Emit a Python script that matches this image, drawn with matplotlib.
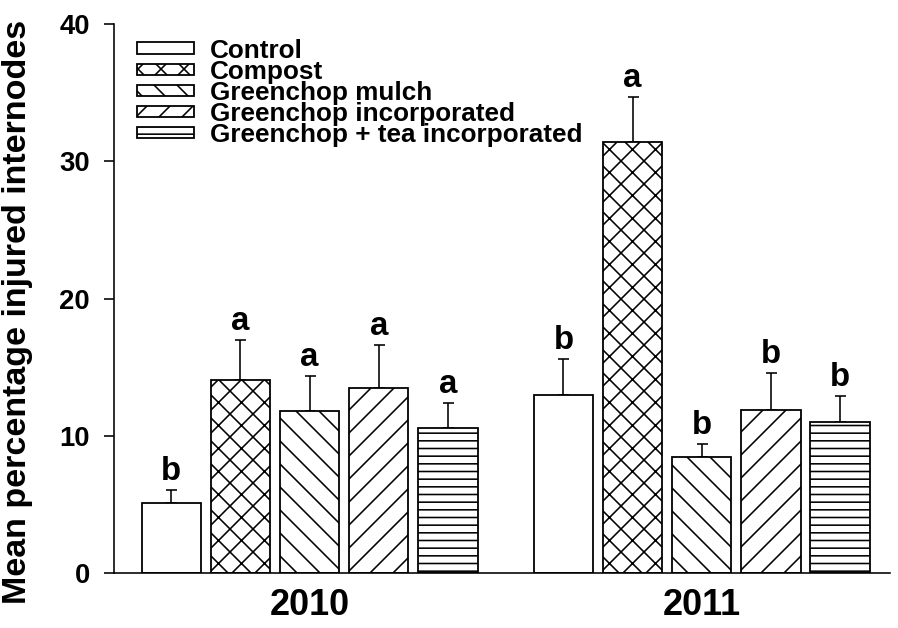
import numpy as np
import matplotlib.pyplot as plt

# rendered at 138 dpi so matplotlib's hatch spacing matches the original
DPI = 138


def px(v):
    """ pixels -> points """
    return v * 72.0 / DPI


years = ['2010', '2011']
treatments = ['Control', 'Compost', 'Greenchop mulch',
              'Greenchop incorporated', 'Greenchop + tea incorporated']
means_2010 = [5.1, 14.1, 11.8, 13.5, 10.6]
means_2011 = [13.0, 31.4, 8.5, 11.9, 11.0]
se_2010 = [1.0, 2.9, 2.6, 3.1, 1.8]
se_2011 = [2.6, 3.3, 0.9, 2.7, 1.9]
letters_2010 = ['b', 'a', 'a', 'a', 'a']
letters_2011 = ['b', 'a', 'b', 'b', 'b']
hatches = ['', 'xx', '\\\\', '//', '---']

plt.rcParams['font.family'] = ['Liberation Sans', 'DejaVu Sans']
plt.rcParams['font.weight'] = 'bold'
plt.rcParams['hatch.linewidth'] = px(1.6)

fig = plt.figure(figsize=(898 / DPI, 628 / DPI), dpi=DPI)
ax = fig.add_axes([0.1269, 0.0871, 0.8641, 0.8747])

group_x = np.array([1.0, 2.0])
step = 0.1763
width = 0.1513

for i, name in enumerate(treatments):
    xs = group_x + (i - 2) * step
    ys = np.array([means_2010[i], means_2011[i]])
    err = np.array([se_2010[i], se_2011[i]])
    ax.bar(xs, ys, width, color='white', edgecolor='black',
           linewidth=px(1.8), hatch=hatches[i], label=name, zorder=2)
    ax.errorbar(xs, ys, yerr=[np.zeros(2), err], fmt='none', ecolor='black',
                elinewidth=px(1.6), capsize=px(5.5), capthick=px(1.6),
                zorder=1)
    for x, y, e, lab in zip(xs, ys, err,
                            [letters_2010[i], letters_2011[i]]):
        ax.annotate(lab, (x, y + e), xytext=(0, px(10)),
                    textcoords='offset points', ha='center', va='baseline',
                    fontsize=px(33), fontweight='bold')

ax.set_xlim(0.501, 2.48)
ax.set_ylim(0, 40)
ax.set_yticks([0, 10, 20, 30, 40])
ax.set_xticks(group_x)
ax.set_xticklabels(years, fontsize=px(36), fontweight='bold')
ax.tick_params(axis='x', length=0, pad=px(15))
ax.tick_params(axis='y', direction='out', length=px(10), width=px(1.6),
               pad=px(14), labelsize=px(27.5))
for lab in ax.get_yticklabels():
    lab.set_fontweight('bold')

for side in ('top', 'right'):
    ax.spines[side].set_visible(False)
for side in ('left', 'bottom'):
    ax.spines[side].set_linewidth(px(1.6))

ax.set_ylabel('Mean percentage injured internodes', fontsize=px(34),
              fontweight='bold')
ax.yaxis.set_label_coords(-0.104, 0.475)

leg = ax.legend(loc='upper left', bbox_to_anchor=(137 / 898, 1 - 38.5 / 628),
                bbox_transform=fig.transFigure, frameon=False,
                fontsize=px(26.2), handlelength=57 / 26.2,
                handleheight=0.28, handletextpad=0.6, labelspacing=-0.11,
                borderpad=0, borderaxespad=0)
for t in leg.get_texts():
    t.set_fontweight('bold')

fig.savefig('out.png', dpi=DPI)
